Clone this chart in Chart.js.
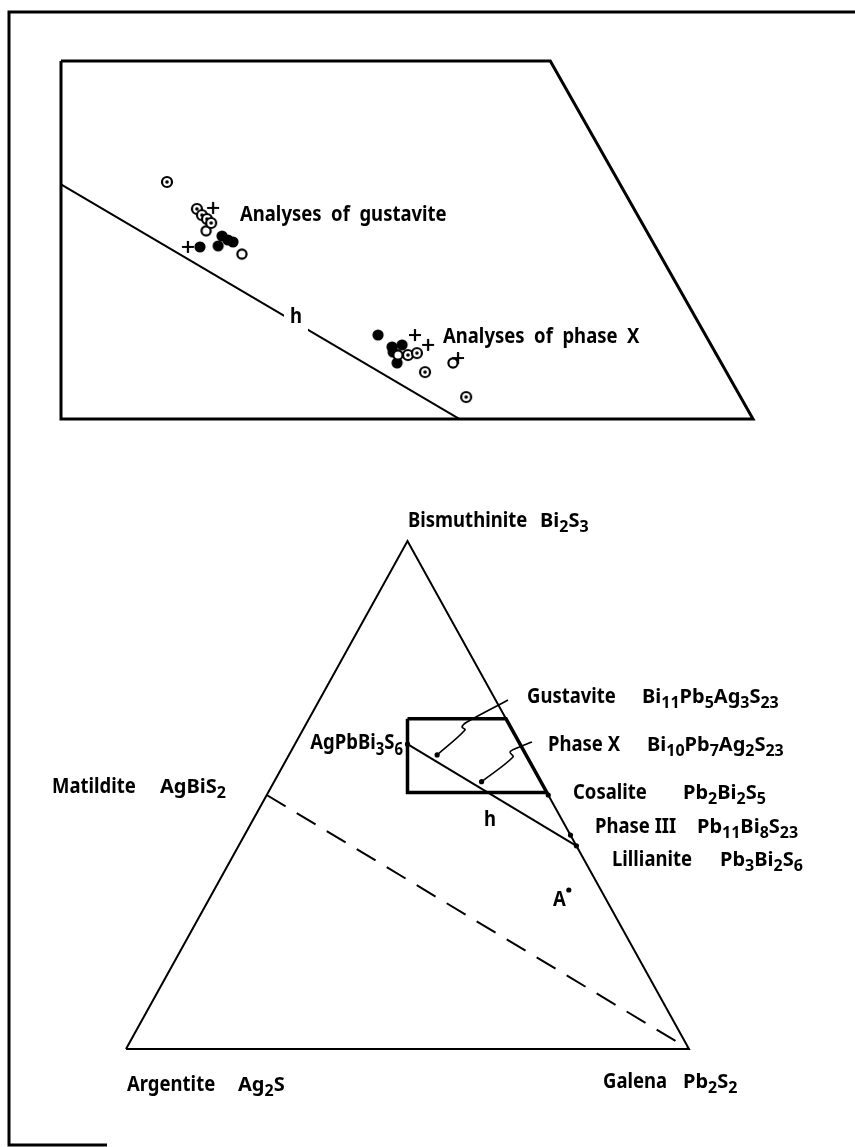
<!DOCTYPE html>
<html>
<head>
<meta charset="utf-8">
<script src="https://cdn.jsdelivr.net/npm/chart.js@4.4.1/dist/chart.umd.min.js"></script>
<style>
  body { margin: 0; background: #fff; }
  #wrap { position: relative; width: 855px; height: 1147px; }
  canvas { position: absolute; left: 0; top: 0; }
</style>
</head>
<body>
<div id="wrap">
  <canvas id="lower" width="855" height="1147" style="width:855px;height:1147px"></canvas>
  <canvas id="upper" width="855" height="1147" style="width:855px;height:1147px"></canvas>
</div>
<script>
// compositions are fractions of the metal atoms Ag, Pb, Bi
var cornerNames = ['Argentite', 'Galena', 'Bismuthinite'];
var cornerFormulas = ['Ag2S', 'Pb2S2', 'Bi2S3'];
var cornerAg = [1, 0, 0];
var cornerPb = [0, 1, 0];
var cornerBi = [0, 0, 1];

var phaseNames = ['AgPbBi3S6', 'Gustavite', 'Phase X', 'Cosalite', 'Phase III', 'Lillianite'];
var phaseFormulas = ['', 'Bi11Pb5Ag3S23', 'Bi10Pb7Ag2S23', 'Pb2Bi2S5', 'Pb11Bi8S23', 'Pb3Bi2S6'];
var phaseAg = [1 / 5, 3 / 19, 2 / 19, 0, 0, 0];
var phasePb = [1 / 5, 5 / 19, 7 / 19, 1 / 2, 11 / 19, 3 / 5];
var phaseBi = [3 / 5, 11 / 19, 10 / 19, 1 / 2, 8 / 19, 2 / 5];

var matilditeAgPbBi = [0.5, 0, 0.5];
var pointAAgPbBi = [0.057, 0.630, 0.313];

// enlarged window (upper panel): Bi range, left side at x = 0.5
var zoomBi = [0.505, 0.65];
var zoomXLeft = 0.5;

// analyses, in triangle x / y units
var gusRinged = [[0.5379, 0.6010], [0.5486, 0.5901], [0.5504, 0.5876], [0.5522, 0.5860], [0.5537, 0.5844]];
var gusPlus = [[0.5544, 0.5905], [0.5454, 0.5747]];
var gusOpen = [[0.5519, 0.5812], [0.5647, 0.5718]];
var gusFilled = [[0.5576, 0.5791], [0.5597, 0.5775], [0.5615, 0.5767], [0.5562, 0.5751], [0.5497, 0.5747]];

var pxFilled = [[0.6134, 0.5390], [0.6184, 0.5342], [0.6220, 0.5350], [0.6188, 0.5321], [0.6202, 0.5277]];
var pxOpen = [[0.6205, 0.5309], [0.6402, 0.5277]];
var pxRinged = [[0.6241, 0.5309], [0.6273, 0.5317], [0.6302, 0.5240], [0.6449, 0.5139]];
var pxPlus = [[0.6266, 0.5390], [0.6313, 0.5350], [0.6420, 0.5297]];

// wavy leader lines from the points to their names
var gusLeader = [[0.6021, 0.6280], [0.5968, 0.6339], [0.6057, 0.6437], [0.6785, 0.6870]];
var phxLeader = [[0.6874, 0.5748], [0.6821, 0.5846], [0.6945, 0.5925], [0.7211, 0.6043]];

function tern(ag, pb, bi) {
  return { x: pb + bi / 2, y: bi };
}
function pts(arr) {
  return arr.map(function (p) { return { x: p[0], y: p[1] }; });
}

var FONT = '"Noto Sans", "DejaVu Sans", sans-serif';

// marker images
function marker(kind) {
  var c = document.createElement('canvas');
  c.width = 16; c.height = 16;
  var g = c.getContext('2d');
  g.strokeStyle = '#000'; g.fillStyle = '#000'; g.lineWidth = 2.2;
  if (kind === 'filled') {
    g.beginPath(); g.arc(8, 8, 5.6, 0, Math.PI * 2); g.fill();
  } else if (kind === 'open') {
    g.beginPath(); g.arc(8, 8, 4.6, 0, Math.PI * 2);
    g.fillStyle = '#fff'; g.fill(); g.stroke();
  } else if (kind === 'ringed') {
    g.beginPath(); g.arc(8, 8, 5, 0, Math.PI * 2);
    g.fillStyle = '#fff'; g.fill(); g.stroke();
    g.fillStyle = '#000'; g.beginPath(); g.arc(8, 8, 1.8, 0, Math.PI * 2); g.fill();
  } else {
    g.beginPath();
    g.moveTo(2, 8); g.lineTo(14, 8); g.moveTo(8, 2); g.lineTo(8, 14);
    g.stroke();
  }
  return c;
}

// draws text, digits become subscripts; squeeze narrows the lettering
function drawFormula(ctx, text, x, y, size, align, squeeze, subRatio) {
  squeeze = squeeze || 1;
  subRatio = subRatio || 0.8;
  var parts = text.match(/\d+|[^\d]+/g);
  var big = 'bold ' + size + 'px ' + FONT;
  var small = 'bold ' + Math.round(size * subRatio) + 'px ' + FONT;
  var w = 0;
  parts.forEach(function (p) {
    ctx.font = /\d/.test(p) ? small : big;
    w += ctx.measureText(p).width;
  });
  ctx.save();
  ctx.translate(align === 'right' ? x - w * squeeze : x, y);
  ctx.scale(squeeze, 1);
  ctx.textAlign = 'left';
  ctx.textBaseline = 'middle';
  ctx.fillStyle = '#000';
  var cx = 0;
  parts.forEach(function (p) {
    var sub = /\d/.test(p);
    ctx.font = sub ? small : big;
    ctx.fillText(p, cx, sub ? size * 0.33 : 0);
    cx += ctx.measureText(p).width;
  });
  ctx.restore();
}
function drawName(ctx, text, x, y, align) {
  drawFormula(ctx, text, x, y, 21, align, 0.88);
}
function drawChem(ctx, text, x, y, align) {
  drawFormula(ctx, text, x, y, 20, align, 1, 0.8);
}

function lineSet(data, width, extra) {
  var d = {
    type: 'line', data: data, borderColor: '#000', borderWidth: width,
    pointRadius: 0, fill: false, tension: 0, clip: false, order: 5
  };
  for (var k in extra) d[k] = extra[k];
  return d;
}
function pointSet(data, style, order) {
  return {
    type: 'scatter', data: data, pointStyle: style, pointRadius: 6,
    backgroundColor: '#000', borderColor: '#000', order: order, clip: false
  };
}

function baseOptions(padding, xmin, xmax, ymin, ymax) {
  return {
    responsive: false,
    animation: false,
    events: [],
    layout: { padding: padding },
    plugins: { legend: { display: false }, tooltip: { enabled: false } },
    scales: {
      x: { type: 'linear', display: false, min: xmin, max: xmax },
      y: { type: 'linear', display: false, min: ymin, max: ymax }
    }
  };
}

var phasePts = phaseNames.map(function (n, i) { return tern(phaseAg[i], phasePb[i], phaseBi[i]); });
var corners = cornerNames.map(function (n, i) { return tern(cornerAg[i], cornerPb[i], cornerBi[i]); });
var matPt = tern(matilditeAgPbBi[0], matilditeAgPbBi[1], matilditeAgPbBi[2]);
var aPt = tern(pointAAgPbBi[0], pointAAgPbBi[1], pointAAgPbBi[2]);

var zoomXRightTop = 1 - zoomBi[1] / 2;
var zoomXRightBot = 1 - zoomBi[0] / 2;
var zoomBox = [
  { x: zoomXLeft, y: zoomBi[1] }, { x: zoomXRightTop, y: zoomBi[1] },
  { x: zoomXRightBot, y: zoomBi[0] }, { x: zoomXLeft, y: zoomBi[0] },
  { x: zoomXLeft, y: zoomBi[1] }
];
var hLine = [phasePts[0], phasePts[5]];

// ---------- lower: the full triangle ----------
var lowerLabels = {
  id: 'lowerLabels',
  afterDraw: function (chart) {
    var ctx = chart.ctx;
    ctx.save();
    // outer frame
    ctx.strokeStyle = '#000';
    ctx.lineWidth = 3;
    ctx.beginPath();
    ctx.moveTo(855, 12); ctx.lineTo(9, 12); ctx.lineTo(9, 1145); ctx.lineTo(107, 1145);
    ctx.stroke();

    drawName(ctx, cornerNames[2], 408, 521);
    drawChem(ctx, cornerFormulas[2], 540, 521);
    drawName(ctx, cornerNames[0], 127, 1085);
    drawChem(ctx, cornerFormulas[0], 238, 1085);
    drawName(ctx, cornerNames[1], 603, 1082);
    drawChem(ctx, cornerFormulas[1], 683, 1082);

    drawName(ctx, 'Matildite', 52, 787);
    drawChem(ctx, 'AgBiS2', 160, 787);

    drawName(ctx, phaseNames[0], 403, 743, 'right');
    var nameX = [0, 527, 548, 573, 595, 612];
    var formX = [0, 642, 647, 683, 697, 720];
    var rowY = [0, 697, 745, 793, 827, 860];
    for (var i = 1; i < phaseNames.length; i++) {
      drawName(ctx, phaseNames[i], nameX[i], rowY[i]);
      drawChem(ctx, phaseFormulas[i], formX[i], rowY[i]);
    }
    drawName(ctx, 'A', 553, 900);
    drawName(ctx, 'h', 484, 820);
    ctx.restore();
  }
};

new Chart(document.getElementById('lower'), {
  type: 'scatter',
  data: {
    datasets: [
      lineSet([corners[0], corners[2], corners[1], corners[0]], 2),
      lineSet([matPt, corners[1]], 2, { borderDash: [22, 13] }),
      lineSet(hLine, 2),
      lineSet(zoomBox, 3.5),
      lineSet([phasePts[1]].concat(pts(gusLeader)), 1.6, { tension: 0.35 }),
      lineSet([phasePts[2]].concat(pts(phxLeader)), 1.6, { tension: 0.35 }),
      {
        type: 'scatter', data: phasePts.concat([aPt]), pointRadius: 2.6,
        backgroundColor: '#000', borderWidth: 0, clip: false, order: 1
      }
    ]
  },
  options: baseOptions({ left: 126, right: 166, top: 541, bottom: 98 }, 0, 1, 0, 1),
  plugins: [lowerLabels]
});

// ---------- upper: enlarged window ----------
var upperLabels = {
  id: 'upperLabels',
  afterDraw: function (chart) {
    var ctx = chart.ctx;
    ctx.save();
    ctx.fillStyle = '#fff';
    ctx.fillRect(284, 304, 24, 30);
    drawName(ctx, 'h', 290, 317);
    drawName(ctx, 'Analyses  of  gustavite', 240, 215);
    drawName(ctx, 'Analyses  of  phase  X', 443, 337);
    ctx.restore();
  }
};

new Chart(document.getElementById('upper'), {
  type: 'scatter',
  data: {
    datasets: [
      pointSet(pts(gusRinged), marker('ringed'), 1),
      pointSet(pts(gusOpen), marker('open'), 1),
      pointSet(pts(gusPlus), marker('plus'), 1),
      pointSet(pts(gusFilled), marker('filled'), 2),
      pointSet(pts(pxRinged), marker('ringed'), 1),
      pointSet(pts(pxOpen), marker('open'), 1),
      pointSet(pts(pxPlus), marker('plus'), 1),
      pointSet(pts(pxFilled), marker('filled'), 2),
      lineSet(zoomBox, 3),
      lineSet(hLine, 2, { clip: 1 })
    ]
  },
  options: baseOptions({ left: 61, right: 102, top: 61, bottom: 728 }, zoomXLeft, zoomXRightBot, zoomBi[0], zoomBi[1]),
  plugins: [upperLabels]
});
</script>
</body>
</html>
